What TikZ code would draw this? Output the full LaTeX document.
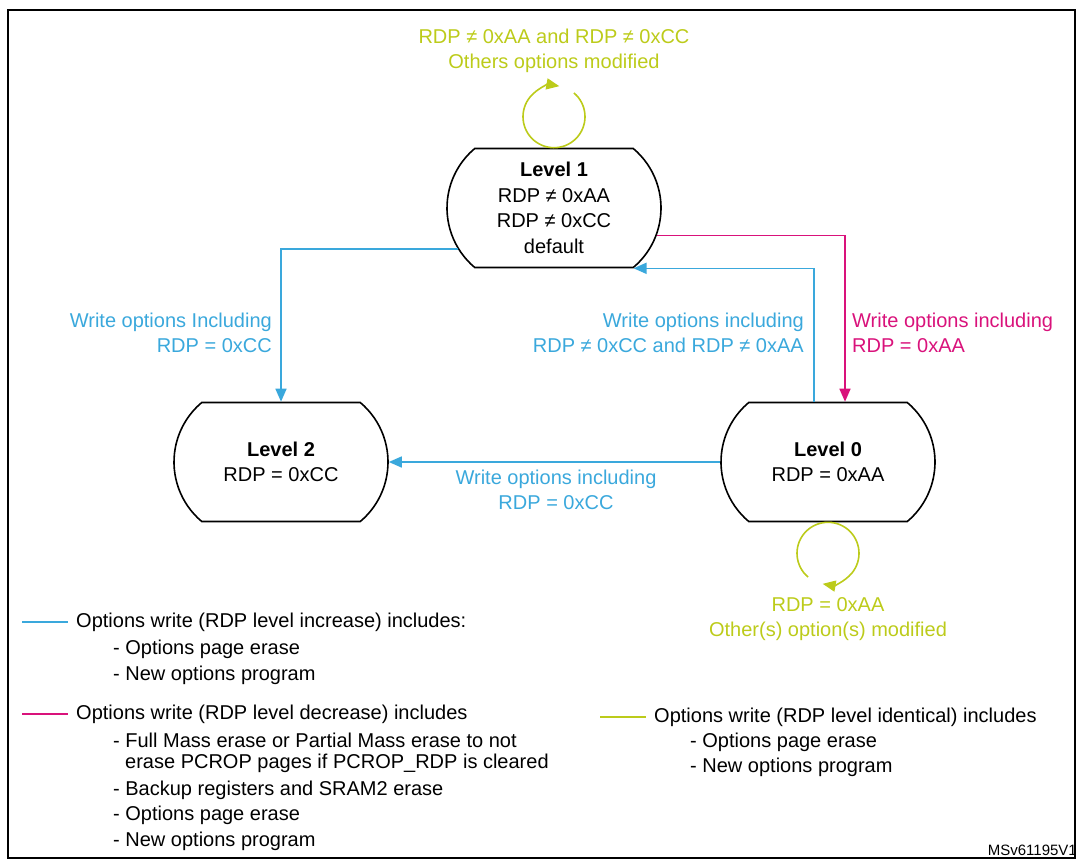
\documentclass[tikz,border=0pt]{standalone}
\usepackage{fontspec}
\setmainfont{Liberation Sans}
\usetikzlibrary{calc,arrows.meta,shapes.misc}
\definecolor{stblue}{HTML}{3AA8DC}
\definecolor{stpink}{HTML}{D9127B}
\definecolor{stlime}{HTML}{BCCB1A}
\tikzset{
  state/.style={draw, line width=1.6pt, rounded rectangle, rounded rectangle arc length=100,
    minimum width=214pt, minimum height=119pt, align=center, inner sep=0pt},
  tip/.style={-{Triangle[length=13pt,width=11pt]}},
  blueline/.style={draw=stblue, line width=1.6pt},
  pinkline/.style={draw=stpink, line width=1.6pt},
  limeline/.style={draw=stlime, line width=1.6pt},
  lbl/.style={inner sep=0pt, align=center}
}
\begin{document}
\begin{tikzpicture}[x=1pt,y=-1pt,font=\fontsize{20}{25.5}\selectfont]
    \useasboundingbox (0,0) rectangle (1079,860);
    \draw[line width=1.6pt] (8,10) rectangle (1075,858);

    \node[state] (L1) at (554,208) {\textbf{Level 1}\\RDP ≠ 0xAA\\RDP ≠ 0xCC\\default};
    \node[state] (L2) at (281,462) {\textbf{Level 2}\\RDP = 0xCC};
    \node[state] (L0) at (828,462) {\textbf{Level 0}\\RDP = 0xAA};

    % transitions
    \draw[blueline,tip] (L1.203) -| (L2.north);
    \draw[pinkline,tip] (L1.-15) -| ([xshift=17pt]L0.north);
    \draw[blueline,tip] ([xshift=-14pt]L0.north) |- (L1.south east);
    \draw[blueline,tip] (L0.west) -- (L2.east);
    \draw[limeline,tip] ($(L1.north)+(0,-31)+(-50:31)$) arc[start angle=-50, delta angle=330, radius=31];
    \draw[limeline,tip] ($(L0.south)+(0,31)+(130:31)$) arc[start angle=130, delta angle=330, radius=31];

    \node[lbl,text=stlime] (t1) at (554,51) {RDP ≠ 0xAA and RDP ≠ 0xCC\\Others options modified};
    \node[lbl,text=stblue,anchor=east,align=right] (t12) at (272,333) {Write options Including\\RDP = 0xCC};
    \node[lbl,text=stblue,anchor=east,align=right] (t01) at (804,333) {Write options including\\RDP ≠ 0xCC and RDP ≠ 0xAA};
    \node[lbl,text=stpink,anchor=west,align=left] (t10) at (852,333) {Write options including\\RDP = 0xAA};
    \node[lbl,text=stblue] (t02) at (556,490) {Write options including\\RDP = 0xCC};
    \node[lbl,text=stlime] (t00) at (828,619) {RDP = 0xAA\\Other(s) option(s) modified};

    % legend
    \node[lbl,anchor=west] (lgA) at (76,622) {Options write (RDP level increase) includes:};
    \node[lbl,anchor=west] at (113,649) {- Options page erase};
    \node[lbl,anchor=west] at (113,675) {- New options program};
    \draw[blueline] ([xshift=-54pt]lgA.west) -- ([xshift=-8pt]lgA.west);

    \node[lbl,anchor=west] (lgB) at (76,714) {Options write (RDP level decrease) includes};
    \node[lbl,anchor=west] at (113,740) {- Full Mass erase or Partial Mass erase to not};
    \node[lbl,anchor=west] at (125,763) {erase PCROP pages if PCROP\_RDP is cleared};
    \node[lbl,anchor=west] at (113,790) {- Backup registers and SRAM2 erase};
    \node[lbl,anchor=west] at (113,815) {- Options page erase};
    \node[lbl,anchor=west] at (113,841) {- New options program};
    \draw[pinkline] ([xshift=-54pt]lgB.west) -- ([xshift=-8pt]lgB.west);

    \node[lbl,anchor=west] (lgC) at (654,717) {Options write (RDP level identical) includes};
    \node[lbl,anchor=west] at (690,742) {- Options page erase};
    \node[lbl,anchor=west] at (690,767) {- New options program};
    \draw[limeline] ([xshift=-54pt]lgC.west) -- ([xshift=-8pt]lgC.west);

    \node[lbl,anchor=south east,font=\fontsize{15}{18}\selectfont] (ref) at (1077,856) {MSv61195V1};
\end{tikzpicture}
\end{document}
